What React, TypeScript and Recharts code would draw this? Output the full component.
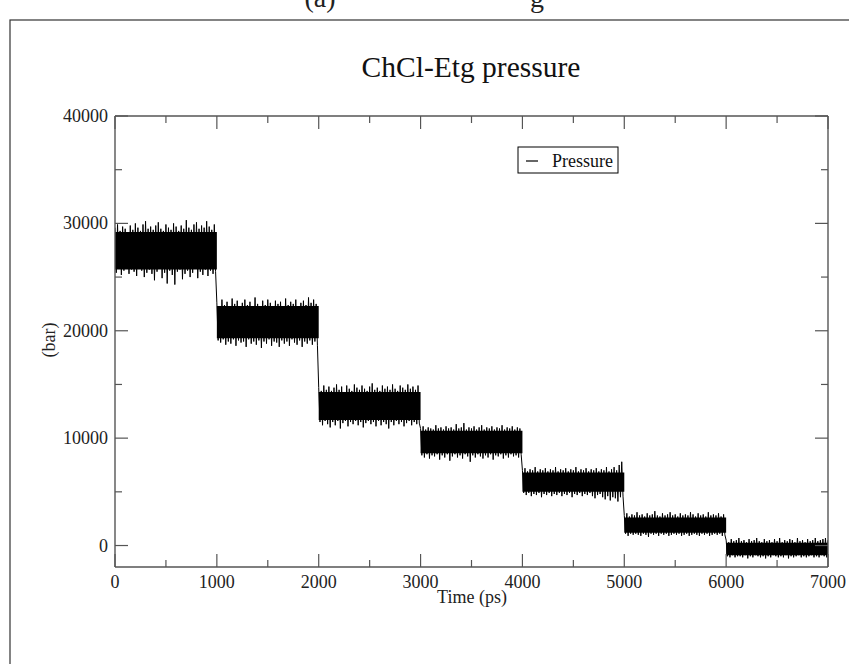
import { ComposedChart, Line, Area, XAxis, YAxis } from 'recharts'

// sampled pressure trace, one list per 1000 ps block (bar)
const seg1 = [29600,25400,29900,25800,29300,25200,29700,25600,29500,25900,
  29100,25300,29800,25700,29400,25500,30000,25100,29600,25800,
  29300,25600,29900,25000,30200,25400,29500,25700,29700,25300,
  29400,24700,29800,25500,30100,25800,29500,24900,29300,25400,
  29900,24400,29600,25600,29400,25200,30000,24300,29700,25500,
  29300,25700,29800,24800,29500,25300,30300,25600,29600,25000,
  29400,25400,29900,25800,30100,24900,29500,25500,29800,25200,
  29600,25700,30200,25100,29700,25600,29400,25300,29900,25500]
const seg2 = [22600,19100,22300,18900,22900,19200,22400,18700,22700,19000,
  22200,18800,23000,19200,22500,18600,22800,19100,22300,18900,
  22600,19000,22900,18500,22400,19200,22700,18800,22300,19000,
  23100,18700,22500,19100,22200,18400,22800,19000,22400,18800,
  22900,19200,22600,18600,22300,19000,22800,18900,22500,18500,
  22700,19100,22300,18800,23000,19000,22400,18600,22700,19200,
  22500,18900,22900,18700,22300,19100,22600,18500,22800,19000,
  22400,18800,23100,19100,22600,18700,22900,19000,22500,18600]
const seg3 = [14700,11500,14400,11200,14900,11600,14500,11300,14800,11000,
  14400,11500,14700,11200,15000,11600,14500,10900,14800,11400,
  14300,11600,14900,11100,14600,11500,14400,11300,15000,11600,
  14700,11200,14500,11500,14900,11000,14600,11400,14400,11600,
  14800,11300,15100,11500,14500,11100,14700,11600,14400,11200,
  14900,11500,14600,11300,14800,10900,14500,11500,15000,11200,
  14600,11600,14400,11300,14900,11500,14700,11100,14500,11400,
  15000,11600,14600,11200,14800,11500,14500,11300,14900,11400]
const seg4 = [10900,8400,11100,8200,10800,8500,11000,8100,10900,8400,
  10800,8300,11200,8500,10900,8000,11000,8400,10800,8200,
  11100,8500,10900,7900,11000,8300,10800,8500,11300,8200,
  10900,8400,11000,8100,11400,8500,10800,8300,11000,7800,
  10900,8400,11100,8200,10800,8500,11000,8300,11200,8100,
  10800,8400,11000,8200,10900,8500,11100,8000,10800,8400,
  11000,8300,10900,8500,11200,8100,10800,8400,11000,8200,
  10900,8500,11100,8300,10800,8400,11000,8200,10900,8500]
const seg5 = [7000,4900,7200,4700,6900,4900,7100,4600,7000,4800,
  7300,4700,6900,4900,7100,4500,7000,4800,7200,4700,
  6900,4900,7100,4600,7000,4800,7300,4700,6900,4900,
  7100,4600,7000,4800,7200,4700,6900,4900,7100,4500,
  7000,4800,7300,4700,6900,4900,7100,4600,7000,4800,
  7200,4700,6900,4900,7100,4600,7000,4400,7200,4700,
  6900,4800,7100,4500,7000,4300,7300,4600,6900,4200,
  7100,4500,7300,4400,7000,4100,7500,4500,7800,4600]
const seg6 = [2800,1100,3000,900,2700,1100,2900,1000,2800,1100,
  3100,1000,2800,900,2900,1100,2700,1000,3000,800,
  2800,1100,2900,1000,3200,1100,2800,900,2700,1100,
  3000,1000,2800,1100,2900,900,3100,1000,2800,1100,
  2900,1000,2700,1100,3000,900,2800,1000,2900,1100,
  2800,900,3100,1000,2900,1100,2700,1000,3000,900,
  2800,1100,2900,1000,2700,1100,3100,900,2800,1000,
  2900,1100,2800,1000,3000,1100,2700,900,2900,1000]
const seg7 = [500,-1000,300,-1100,600,-900,400,-1100,500,-1000,
  700,-1000,400,-1100,500,-900,300,-1200,600,-1000,
  400,-1100,500,-900,700,-1000,400,-1100,300,-1000,
  600,-1200,400,-1000,500,-1100,300,-900,600,-1000,
  400,-1100,700,-1000,300,-1100,500,-900,400,-1200,
  600,-1000,500,-1100,300,-1000,700,-900,400,-1100,
  500,-1000,300,-1100,600,-1000,400,-900,500,-1100,
  700,-1000,400,-1100,500,-900,600,-1000,700,-1100,500]

// dense core of each block (low, high)
const blockStart = [0, 1000, 2000, 3000, 4000, 5000, 6000, 7000]
const coreLow = [25700, 19300, 11700, 8600, 5000, 1200, -900, -900]
const coreHigh = [29200, 22300, 14300, 10700, 6800, 2600, 250, 250]

const xTicks = [0, 500, 1000, 1500, 2000, 2500, 3000, 3500, 4000, 4500, 5000, 5500, 6000, 6500, 7000]
const yTicks = [0, 5000, 10000, 15000, 20000, 25000, 30000, 35000, 40000]

const dt = 12.5
const trace = [seg1, seg2, seg3, seg4, seg5, seg6, seg7].flatMap((seg, i) =>
  seg.map((p, j) => ({ t: i * 1000 + j * dt, p }))
)
const core = blockStart.map((t, i) => ({ t, band: [coreLow[i], coreHigh[i]] }))

const font = 'Liberation Serif, Times New Roman, serif'
const axisColor = '#555'
const labelColor = '#222'
const xDomain = [0, 7000]
const yDomain = [-2000, 40000]

function XTick(props: any) {
  const { x, y, payload, side } = props
  const major = payload.value % 1000 === 0
  const len = major ? 13 : 7
  const dir = side === 'bottom' ? -1 : 1
  return (
    <g>
      <line x1={x} x2={x} y1={y} y2={y + dir * len} stroke={axisColor} strokeWidth={1.2} />
      {side === 'bottom' && major && (
        <text x={x} y={y + 20.5} textAnchor="middle" fontSize={18} fontFamily={font} fill={labelColor}>
          {payload.value}
        </text>
      )}
    </g>
  )
}

function YTick(props: any) {
  const { x, y, payload, side } = props
  const major = payload.value % 10000 === 0
  const len = major ? 13 : 7
  const dir = side === 'left' ? 1 : -1
  return (
    <g>
      <line x1={x} x2={x + dir * len} y1={y} y2={y} stroke={axisColor} strokeWidth={1.2} />
      {side === 'left' && major && (
        <text x={x - 7} y={y + 6} textAnchor="end" fontSize={18} fontFamily={font} fill={labelColor}>
          {payload.value}
        </text>
      )}
    </g>
  )
}

export default function App() {
  const xCommon = {
    type: 'number' as const, dataKey: 't', domain: xDomain, ticks: xTicks, allowDataOverflow: true,
    height: 1, tickSize: 0, tickMargin: 0, tickLine: false, interval: 0 as const,
    axisLine: { stroke: axisColor, strokeWidth: 1.4 },
  }
  const yCommon = {
    type: 'number' as const, domain: yDomain, ticks: yTicks, allowDataOverflow: true,
    width: 1, tickSize: 0, tickMargin: 0, tickLine: false, interval: 0 as const,
    axisLine: { stroke: axisColor, strokeWidth: 1.4 },
  }
  return (
    <div style={{ position: 'absolute', left: 0, top: 0, width: 849, height: 664, background: '#fff' }}>
      <ComposedChart width={849} height={664} margin={{ top: 115, right: 20, bottom: 96, left: 114 }}>
        <XAxis xAxisId="b" {...xCommon} tick={(p: any) => <XTick {...p} side="bottom" />} />
        <XAxis xAxisId="t" orientation="top" {...xCommon} tick={(p: any) => <XTick {...p} side="top" />} />
        <YAxis yAxisId="l" {...yCommon} tick={(p: any) => <YTick {...p} side="left" />} />
        <YAxis yAxisId="r" orientation="right" {...yCommon} tick={(p: any) => <YTick {...p} side="right" />} />
        <Area xAxisId="b" yAxisId="l" data={core} dataKey="band" type="stepAfter"
          stroke="none" fill="#000" fillOpacity={1} isAnimationActive={false} />
        <Line xAxisId="b" yAxisId="l" data={trace} dataKey="p" type="linear"
          stroke="#000" strokeWidth={1} dot={false} isAnimationActive={false} />
      </ComposedChart>
      <svg width={849} height={664} style={{ position: 'absolute', left: 0, top: 0, pointerEvents: 'none' }}
        fontFamily={font}>
        <rect x={10} y={20} width={900} height={700} fill="none" stroke="#333" strokeWidth={1.2} />
        <text x={320} y={7} fontSize={28} textAnchor="middle" fill={labelColor}>(a)</text>
        <text x={537} y={7} fontSize={28} textAnchor="middle" fill={labelColor}>g</text>
        <text x={471} y={77} fontSize={29.5} textAnchor="middle" fill="#111">ChCl-Etg pressure</text>
        <text x={472} y={603} fontSize={18} textAnchor="middle" fill={labelColor}>Time (ps)</text>
        <text x={55} y={340} fontSize={18} textAnchor="middle" fill={labelColor} transform="rotate(-90 55 340)">(bar)</text>
        <rect x={518} y={147} width={100} height={26} fill="#fff" stroke="#000" strokeWidth={1} />
        <line x1={526} x2={538} y1={161} y2={161} stroke="#000" strokeWidth={1.2} />
        <text x={552} y={167} fontSize={18} fill="#111">Pressure</text>
      </svg>
    </div>
  )
}
